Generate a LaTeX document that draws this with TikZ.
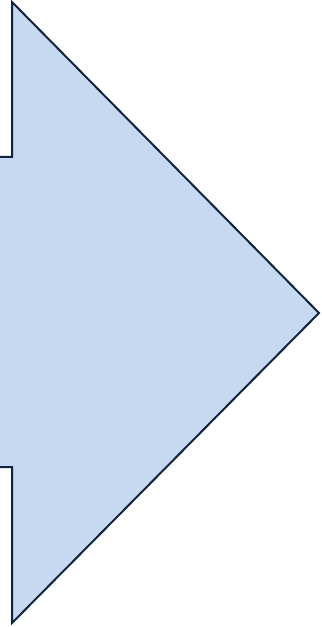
\documentclass[tikz,border=0pt]{standalone}
\usetikzlibrary{arrows.meta, positioning}
\definecolor{arrowfill}{HTML}{C6D9F0}
\definecolor{arrowline}{HTML}{0F243E}

\begin{document}
\begin{tikzpicture}[x=0.75pt, y=-0.75pt,
      bigarrow/.style={fill=arrowfill, draw=arrowline, line width=1.5pt, line join=miter}]
    \useasboundingbox (0,0) rectangle (321,627);
    \clip (0,0) rectangle (321,627);
    % shaft enters from the left edge, head points right
    \draw[bigarrow] (-10,157) -- (12,157) -- (12,2) -- (319,313)
                    -- (12,623) -- (12,467) -- (-10,467);
  \end{tikzpicture}
\end{document}
